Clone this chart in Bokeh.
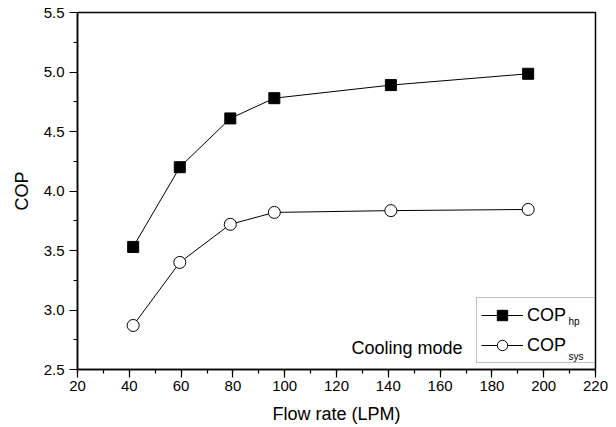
from bokeh.plotting import figure
from bokeh.models import Range1d, SingleIntervalTicker, PrintfTickFormatter, Legend, LegendItem, Label
from bokeh.embed import file_html
from bokeh.resources import INLINE

flow_rate = [41.5, 59.5, 79, 96, 141, 194]
cop_hp = [3.53, 4.20, 4.61, 4.78, 4.89, 4.985]
cop_sys = [2.87, 3.40, 3.72, 3.82, 3.835, 3.845]

FONT = "Liberation Sans"

p = figure(width=616, height=427, output_backend="svg", toolbar_location=None,
           x_range=Range1d(20, 220), y_range=Range1d(2.5, 5.5),
           min_border_left=77, min_border_right=21, min_border_top=12, min_border_bottom=58)
p.background_fill_color = "white"
p.border_fill_color = "white"
p.xgrid.visible = False
p.ygrid.visible = False
p.outline_line_color = "black"
p.outline_line_width = 1.5
p.outline_line_alpha = 1.0

p.xaxis.ticker = SingleIntervalTicker(interval=20, num_minor_ticks=2)
p.yaxis.ticker = SingleIntervalTicker(interval=0.5, num_minor_ticks=2)
p.yaxis.formatter = PrintfTickFormatter(format="%.1f")

for ax in (p.xaxis, p.yaxis):
    ax.axis_line_color = "black"
    ax.axis_line_width = 1.5
    ax.major_tick_line_color = "black"
    ax.minor_tick_line_color = "black"
    ax.major_tick_line_width = 1.2
    ax.minor_tick_line_width = 1.2
    ax.major_tick_out = 8
    ax.major_tick_in = 0
    ax.minor_tick_out = 4
    ax.minor_tick_in = 0
    ax.major_label_text_font = FONT
    ax.major_label_text_font_size = "15px"
    ax.major_label_text_color = "black"
    ax.axis_label_text_font = FONT
    ax.axis_label_text_font_size = "18px"
    ax.axis_label_text_font_style = "normal"
    ax.axis_label_text_color = "black"

p.xaxis.axis_label = "Flow rate (LPM)"
p.yaxis.axis_label = "COP"
p.xaxis.major_label_standoff = 3
p.yaxis.major_label_standoff = 5
p.xaxis.axis_label_standoff = 10
p.yaxis.axis_label_standoff = 9

l1 = p.line(flow_rate, cop_hp, line_color="black", line_width=1)
s1 = p.scatter(flow_rate, cop_hp, marker="square", size=11, fill_color="black", line_color="black")
l2 = p.line(flow_rate, cop_sys, line_color="black", line_width=1)
s2 = p.scatter(flow_rate, cop_sys, marker="circle", size=12, fill_color="white", line_color="black", line_width=1)

legend = Legend(items=[LegendItem(label="COP", renderers=[l1, s1]),
                       LegendItem(label="COP", renderers=[l2, s2])],
                location=(399, 6), orientation="vertical",
                glyph_width=42, glyph_height=26, label_height=26, label_width=64,
                label_standoff=4, spacing=4, padding=4, margin=0,
                border_line_color="#808080", border_line_width=1,
                background_fill_alpha=0,
                label_text_font=FONT, label_text_font_size="18px", label_text_color="black")
p.add_layout(legend, "center")

hp_label = Label(x=491, y=43, x_units="screen", y_units="screen", text="hp",
                 text_font=FONT, text_font_size="10px", text_color="black")
sys_label = Label(x=491, y=8, x_units="screen", y_units="screen", text="sys",
                  text_font=FONT, text_font_size="10px", text_color="black")
cool_label = Label(x=274, y=12, x_units="screen", y_units="screen", text="Cooling mode",
                   text_font=FONT, text_font_size="18px", text_color="black")
p.add_layout(hp_label, "center")
p.add_layout(sys_label, "center")
p.add_layout(cool_label, "center")

open("out.html", "w").write(file_html(p, INLINE))
